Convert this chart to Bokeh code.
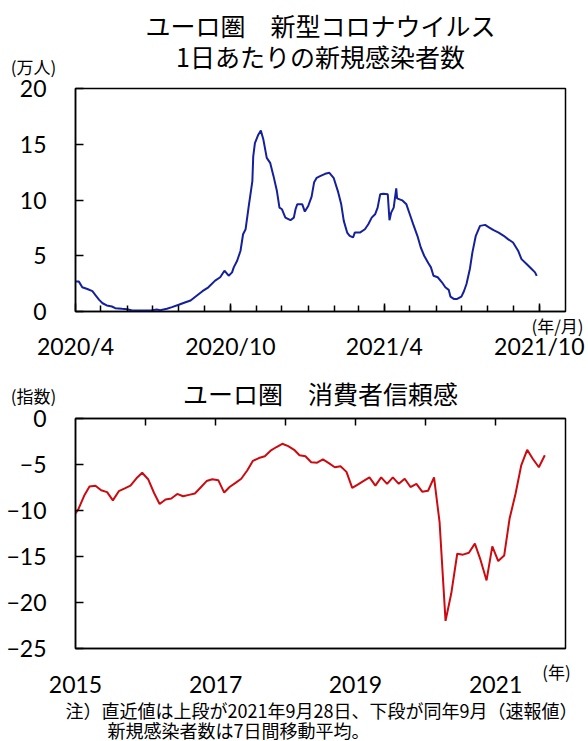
import pandas as pd
from bokeh.plotting import figure
from bokeh.models import Range1d, FixedTicker, CustomJSTickFormatter, DatetimeAxis
from bokeh.layouts import column
from bokeh.core.properties import value
from bokeh.embed import file_html
from bokeh.resources import INLINE

# --- Euro area: new COVID-19 cases per day (7-day average, 10k persons) ---
covid_dates = [
    "2020-04-01", "2020-04-05", "2020-04-09", "2020-04-15", "2020-04-21", "2020-04-25",
    "2020-04-29", "2020-05-03", "2020-05-08", "2020-05-14", "2020-05-18", "2020-05-26",
    "2020-06-01", "2020-06-07", "2020-06-17", "2020-06-29", "2020-07-06", "2020-07-10",
    "2020-07-18", "2020-07-24", "2020-08-01", "2020-08-09", "2020-08-15", "2020-08-21",
    "2020-08-29", "2020-09-05", "2020-09-13", "2020-09-19", "2020-09-24", "2020-09-29",
    "2020-10-03", "2020-10-05", "2020-10-09", "2020-10-13", "2020-10-16", "2020-10-19",
    "2020-10-23", "2020-10-27", "2020-10-28", "2020-10-30", "2020-11-03", "2020-11-06",
    "2020-11-09", "2020-11-13", "2020-11-17", "2020-11-21", "2020-11-25", "2020-11-28",
    "2020-12-01", "2020-12-05", "2020-12-11", "2020-12-15", "2020-12-17", "2020-12-19",
    "2020-12-25", "2020-12-28", "2021-01-01", "2021-01-05", "2021-01-08", "2021-01-11",
    "2021-01-15", "2021-01-21", "2021-01-26", "2021-01-31", "2021-02-05", "2021-02-09",
    "2021-02-12", "2021-02-16", "2021-02-19", "2021-02-23", "2021-02-25", "2021-03-03",
    "2021-03-09", "2021-03-13", "2021-03-17", "2021-03-21", "2021-03-24", "2021-03-27",
    "2021-03-31", "2021-04-05", "2021-04-07", "2021-04-09", "2021-04-12", "2021-04-15",
    "2021-04-16", "2021-04-22", "2021-04-27", "2021-05-01", "2021-05-05", "2021-05-10",
    "2021-05-14", "2021-05-18", "2021-05-23", "2021-05-26", "2021-05-29", "2021-06-03",
    "2021-06-08", "2021-06-12", "2021-06-16", "2021-06-18", "2021-06-22", "2021-06-26",
    "2021-07-01", "2021-07-04", "2021-07-07", "2021-07-11", "2021-07-14", "2021-07-18",
    "2021-07-23", "2021-07-29", "2021-08-03", "2021-08-08", "2021-08-14", "2021-08-20",
    "2021-08-25", "2021-08-31", "2021-09-06", "2021-09-10", "2021-09-16", "2021-09-22",
    "2021-09-26", "2021-09-28",
]
covid_cases = [
    2.68, 2.68, 2.17, 2.02, 1.82, 1.43, 1.04, 0.74, 0.54, 0.45, 0.30, 0.24,
    0.21, 0.09, 0.09, 0.09, 0.18, 0.12, 0.24, 0.39, 0.60, 0.83, 0.98, 1.34,
    1.82, 2.17, 2.77, 3.07, 3.66, 3.21, 3.51, 3.96, 4.55, 5.45, 6.93, 7.38,
    9.61, 11.70, 13.90, 15.10, 15.86, 16.22, 15.42, 13.78, 13.33, 12.14, 10.80, 9.32,
    9.17, 8.42, 8.19, 8.42, 9.17, 9.61, 9.61, 8.96, 9.46, 10.30, 11.60, 11.99,
    12.14, 12.35, 12.44, 11.99, 10.80, 9.61, 8.13, 7.08, 6.79, 6.64, 7.08, 7.08,
    7.38, 7.83, 8.42, 8.72, 9.32, 10.51, 10.57, 10.51, 8.19, 8.87, 9.32, 11.04,
    10.15, 9.97, 9.61, 8.72, 7.83, 6.79, 5.74, 5.00, 4.32, 3.96, 3.21, 3.07,
    2.62, 2.17, 1.94, 1.34, 1.13, 1.13, 1.34, 1.82, 2.47, 3.81, 5.30, 6.79,
    7.68, 7.77, 7.53, 7.29, 7.08, 6.79, 6.49, 6.19, 5.45, 4.70, 4.26, 3.81,
    3.51, 3.20,
]
covid_ticks = ["2020-04-01", "2020-10-01", "2021-04-01", "2021-10-01"]

# --- Euro area consumer confidence (monthly, Dec 2014 - Sep 2021) ---
conf_values = [
    -10.8,
    -9.9, -8.4, -7.4, -7.3, -7.8, -8.0, -8.9, -7.9, -7.6, -7.3, -6.5, -5.9,
    -6.6, -8.1, -9.3, -8.8, -8.7, -8.2, -8.45, -8.3, -8.15, -7.5, -6.8, -6.6,
    -6.7, -8.05, -7.45, -7.0, -6.55, -5.65, -4.6, -4.3, -4.1, -3.5, -3.1, -2.75,
    -3.0, -3.4, -4.0, -4.1, -4.75, -4.8, -4.45, -4.85, -5.3, -5.2, -5.8, -7.55,
    -7.15, -6.75, -6.4, -7.3, -6.4, -7.1, -6.4, -7.1, -6.55, -7.45, -7.1, -7.95,
    -7.85, -6.4, -11.3, -22.0, -19.0, -14.7, -14.8, -14.6, -13.6, -15.4, -17.6, -13.9,
    -15.5, -14.9, -10.9, -8.2, -5.1, -3.4, -4.4, -5.3, -4.0,
]
conf_first_month = "2014-12-01"
conf_label_years = [2015, 2017, 2019, 2021]
conf_tick_years = [2016, 2017, 2018, 2019, 2020, 2021]

JP = "Noto Sans CJK JP"
NUM = "Lato"
BLUE = "#14209c"
RED = "#cc0a10"
W, H1, H2 = 588, 370, 371
LEFT, RIGHT = 75, 565            # frame edges (page pixels)
TOP1, BOT1 = 88, 311             # upper frame
TOP2, BOT2 = 418, 648            # lower frame


def ms(s):
    return pd.Timestamp(s).value // 10**6


def style(p):
    p.xgrid.visible = False
    p.ygrid.visible = False
    p.outline_line_color = "black"
    p.outline_line_width = 1.5
    p.background_fill_color = "white"
    p.border_fill_color = "white"


def tick_text(ax, standoff):
    ax.major_label_text_font = NUM
    ax.major_label_text_font_size = "23px"
    ax.major_label_text_color = "black"
    ax.major_label_standoff = standoff
    ax.axis_line_color = "black"
    ax.axis_line_width = 1.5
    ax.major_tick_line_color = "black"
    ax.major_tick_line_width = 1.5
    ax.minor_tick_line_color = "black"
    ax.minor_tick_line_width = 1.5


def page_text(p, top, bottom, items):
    # pixel-based ranges so that text can sit in the borders around the frame
    p.extra_x_ranges["px"] = Range1d(LEFT, RIGHT)
    p.extra_y_ranges["px"] = Range1d(bottom, top)
    for txt, x, y, size, align in items:
        p.text(x=[x], y=[y], text=[txt], x_range_name="px", y_range_name="px",
               text_font=value(JP), text_font_size=value(size),
               text_align=align, text_baseline="middle", text_color="black",
               level="overlay")


# ---------------- upper panel: new cases ----------------
p1 = figure(width=W, height=H1, x_axis_type="datetime",
            x_range=Range1d(ms("2020-04-01"), ms("2021-11-01")),
            y_range=Range1d(0, 20),
            output_backend="svg", toolbar_location=None,
            min_border_left=LEFT, min_border_right=W - RIGHT,
            min_border_top=TOP1, min_border_bottom=H1 - BOT1)
style(p1)
p1.line(pd.to_datetime(covid_dates), covid_cases, line_color=BLUE, line_width=2)

xa = p1.xaxis[0]
month_starts = pd.date_range("2020-05-01", "2021-10-01", freq="MS")
xa.ticker = FixedTicker(ticks=[ms(d) for d in covid_ticks],
                        minor_ticks=[ms(d) for d in month_starts])
xa.formatter = CustomJSTickFormatter(code="""
    const d = new Date(tick);
    return d.getUTCFullYear() + "/" + (d.getUTCMonth() + 1);
""")
xa.major_tick_in = 8
xa.major_tick_out = 0
xa.minor_tick_in = 6
xa.minor_tick_out = 0
tick_text(xa, 20)

ya = p1.yaxis[0]
ya.ticker = FixedTicker(ticks=[0, 5, 10, 15, 20])
ya.major_tick_in = 8
ya.major_tick_out = 0
ya.minor_tick_in = 0
ya.minor_tick_out = 0
tick_text(ya, 29)

page_text(p1, TOP1, BOT1, [
    ("ユーロ圏\u3000新型コロナウイルス", 320, 24, "25px", "center"),
    ("1日あたりの新規感染者数", 320, 55, "25px", "center"),
    ("(万人)", 33, 66, "17px", "center"),
    ("(年/月)", 557, 325, "17px", "center"),
])

# ---------------- lower panel: consumer confidence ----------------
conf_dates = pd.date_range(conf_first_month, periods=len(conf_values), freq="MS") + pd.Timedelta(days=14)

p2 = figure(width=W, height=H2, x_axis_type="datetime",
            x_range=Range1d(ms("2015-01-01"), ms("2022-01-01")),
            y_range=Range1d(-25, 0),
            output_backend="svg", toolbar_location=None,
            min_border_left=LEFT, min_border_right=W - RIGHT,
            min_border_top=TOP2 - H1, min_border_bottom=H1 + H2 - BOT2)
style(p2)
p2.line(conf_dates, conf_values, line_color=RED, line_width=2)

bx = p2.xaxis[0]
bx.ticker = FixedTicker(ticks=[ms(f"{y}-01-01") for y in conf_label_years])
bx.formatter = CustomJSTickFormatter(code="return String(new Date(tick).getUTCFullYear());")
bx.major_tick_in = 0
bx.major_tick_out = 0
bx.minor_tick_in = 0
bx.minor_tick_out = 0
tick_text(bx, 27)

# zero line along the top edge, with a tick mark at each year
top_ax = DatetimeAxis(ticker=FixedTicker(ticks=[ms(f"{y}-01-01") for y in conf_tick_years]),
                      formatter=CustomJSTickFormatter(code="return '';"),
                      major_tick_in=7, major_tick_out=0,
                      minor_tick_in=0, minor_tick_out=0,
                      major_label_standoff=0)
top_ax.axis_line_color = "black"
top_ax.axis_line_width = 1.5
top_ax.major_tick_line_width = 1.5
p2.add_layout(top_ax, "above")

by = p2.yaxis[0]
by.ticker = FixedTicker(ticks=[0, -5, -10, -15, -20, -25])
by.major_tick_in = 8
by.major_tick_out = 0
by.minor_tick_in = 0
by.minor_tick_out = 0
tick_text(by, 29)

# texts of the lower panel, in page pixels shifted to this canvas
page_text(p2, TOP2 - H1, BOT2 - H1, [
    ("ユーロ圏\u3000消費者信頼感", 320, 392 - H1, "25px", "center"),
    ("(指数)", 33, 395 - H1, "17px", "center"),
    ("(年)", 556, 671 - H1, "17px", "center"),
    ("注）直近値は上段が2021年9月28日、下段が同年9月（速報値）", 65, 709 - H1, "18px", "left"),
    ("新規感染者数は7日間移動平均。", 107, 729 - H1, "18px", "left"),
])

open("out.html", "w").write(file_html(column(p1, p2, spacing=0), INLINE))
